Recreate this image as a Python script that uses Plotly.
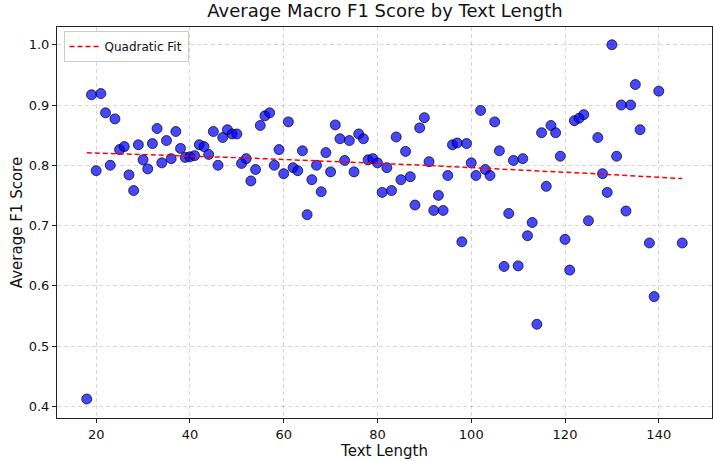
import numpy as np
import plotly.graph_objects as go

# average macro F1 per text length
text_length = [18, 19, 20, 21, 22, 23, 24, 25, 26, 27, 28, 29, 30, 31, 32, 33, 34, 35, 36, 37,
               38, 39, 40, 41, 42, 43, 44, 45, 46, 47, 48, 49, 50, 51, 52, 53, 54, 55, 56, 57,
               58, 59, 60, 61, 62, 63, 64, 65, 66, 67, 68, 69, 70, 71, 72, 73, 74, 75, 76, 77,
               78, 79, 80, 81, 82, 83, 84, 85, 86, 87, 88, 89, 90, 91, 92, 93, 94, 95, 96, 97,
               98, 99, 100, 101, 102, 103, 104, 105, 106, 107, 108, 109, 110, 111, 112, 113, 114, 115, 116, 117,
               118, 119, 120, 121, 122, 123, 124, 125, 127, 128, 129, 130, 131, 132, 133, 134, 135, 136, 138, 139,
               140, 145]
avg_f1 = [0.412, 0.917, 0.791, 0.919, 0.887, 0.800, 0.877, 0.826, 0.831, 0.784, 0.758, 0.834, 0.809, 0.794, 0.836, 0.861, 0.804, 0.841, 0.811, 0.856,
          0.828, 0.813, 0.814, 0.816, 0.834, 0.831, 0.818, 0.856, 0.800, 0.846, 0.859, 0.852, 0.852, 0.803, 0.811, 0.774, 0.793, 0.866, 0.882, 0.887,
          0.800, 0.826, 0.786, 0.872, 0.796, 0.791, 0.824, 0.718, 0.776, 0.800, 0.756, 0.821, 0.789, 0.867, 0.844, 0.808, 0.841, 0.789, 0.852, 0.844,
          0.809, 0.811, 0.804, 0.755, 0.796, 0.758, 0.847, 0.776, 0.823, 0.781, 0.734, 0.862, 0.879, 0.806, 0.725, 0.750, 0.725, 0.783, 0.834, 0.837,
          0.673, 0.836, 0.804, 0.783, 0.891, 0.793, 0.783, 0.872, 0.824, 0.632, 0.720, 0.808, 0.633, 0.811, 0.683, 0.705, 0.536, 0.854, 0.765, 0.866,
          0.854, 0.815, 0.677, 0.626, 0.874, 0.878, 0.884, 0.708, 0.846, 0.786, 0.755, 1.000, 0.815, 0.900, 0.724, 0.900, 0.934, 0.859, 0.671, 0.582,
          0.923, 0.671]

x = np.array(text_length)
y = np.array(avg_f1)
coef = np.polyfit(x, y, 2)
x_fit = np.linspace(x.min(), x.max(), 100)
y_fit = np.polyval(coef, x_fit)

fig = go.Figure()
fig.add_trace(go.Scatter(
    x=x, y=y, mode="markers", showlegend=False,
    marker=dict(size=10, color="rgba(0,0,255,0.72)",
                line=dict(color="rgba(0,0,0,0.7)", width=1)),
))
fig.add_trace(go.Scatter(
    x=x_fit, y=y_fit, mode="lines", name="Quadratic Fit",
    line=dict(color="red", width=1.5, dash="5px,3px"),
))

axis_style = dict(
    showline=True, linecolor="#222", linewidth=1, mirror=True,
    ticks="outside", ticklen=4, tickcolor="#222",
    showgrid=True, gridcolor="rgba(0,0,0,0.16)", griddash="4px,3px", gridwidth=1,
    zeroline=False, tickfont=dict(size=13, color="#111"),
)

fig.update_layout(
    width=713, height=461,
    margin=dict(l=57, r=1, t=27, b=43),
    paper_bgcolor="white", plot_bgcolor="white",
    font=dict(family="DejaVu Sans", color="#111"),
    title=dict(text="Average Macro F1 Score by Text Length", x=0.54, xanchor="center",
               y=0.99, yanchor="top", font=dict(size=18)),
    xaxis=dict(title=dict(text="Text Length", font=dict(size=15), standoff=4),
               range=[11.65, 151.35], tickvals=[20, 40, 60, 80, 100, 120, 140], **axis_style),
    yaxis=dict(title=dict(text="Average F1 Score", font=dict(size=15), standoff=2),
               range=[0.3805, 1.0295], tickvals=[0.4, 0.5, 0.6, 0.7, 0.8, 0.9, 1.0],
               tickformat=".1f", **axis_style),
    legend=dict(x=0.01, y=0.99, xanchor="left", yanchor="top",
                bgcolor="rgba(255,255,255,0.8)", bordercolor="#ccc", borderwidth=1,
                font=dict(size=12)),
)

fig.write_html("out.html", config={"displayModeBar": False},
               post_script="document.body.style.margin='0';")
